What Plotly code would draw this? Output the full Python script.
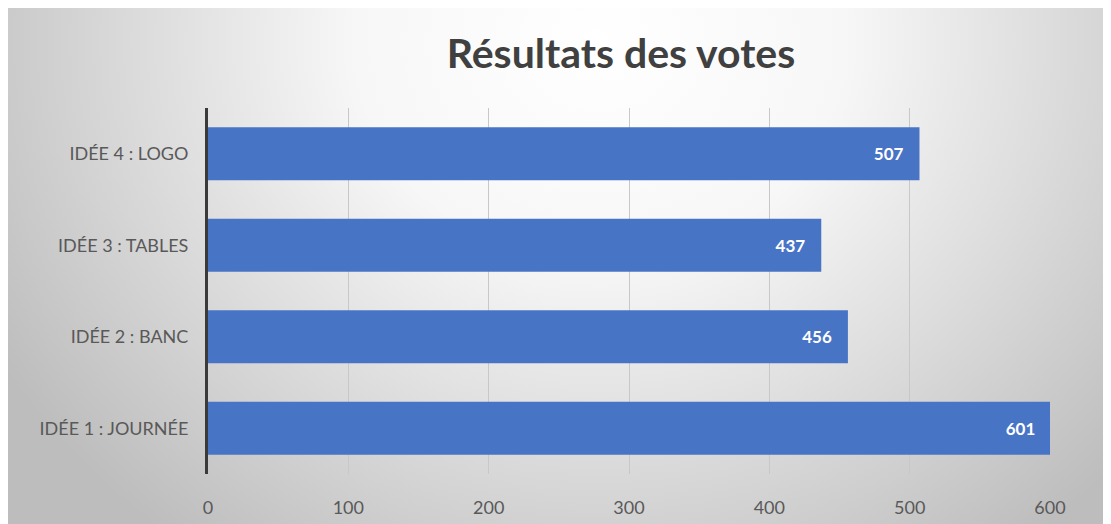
import base64
import plotly.graph_objects as go

categories = ["IDÉE 1 : JOURNÉE", "IDÉE 2 : BANC", "IDÉE 3 : TABLES", "IDÉE 4 : LOGO"]
votes = [601, 456, 437, 507]
x_ticks = [0, 100, 200, 300, 400, 500, 600]
title_text = "Résultats des votes"

W, H = 1111, 524
L, R, T, B = 200, 69, 100, 58
pw, ph = W - L - R, H - T - B

svg = (
    f'<svg xmlns="http://www.w3.org/2000/svg" width="{W}" height="{H}" viewBox="0 0 {W} {H}" preserveAspectRatio="none">'
    '<defs><radialGradient id="g" gradientUnits="userSpaceOnUse" cx="592" cy="32" r="700" '
    'gradientTransform="translate(592,32) scale(1,0.9) translate(-592,-32)">'
    '<stop offset="0" stop-color="#ffffff"/><stop offset="0.35" stop-color="#f7f7f7"/>'
    '<stop offset="1" stop-color="#bdbdbd"/></radialGradient></defs>'
    f'<rect width="{W}" height="{H}" fill="url(#g)"/></svg>'
)
src = "data:image/svg+xml;base64," + base64.b64encode(svg.encode()).decode()

font_family = "Lato, 'Open Sans', sans-serif"
pad = "\u00a0" * 3

fig = go.Figure(
    go.Bar(
        x=votes,
        y=categories,
        orientation="h",
        width=0.58,
        marker=dict(color="#4874c6", line=dict(width=0)),
        text=[f"<b>{v}</b>{pad}" for v in votes],
        textposition="inside",
        insidetextanchor="end",
        textangle=0,
        insidetextfont=dict(family=font_family, size=17, color="white"),
        cliponaxis=True,
        hoverinfo="x+y",
    )
)

fig.add_layout_image(
    dict(
        source=src, xref="paper", yref="paper",
        x=-L / pw, y=1 + T / ph,
        sizex=W / pw, sizey=H / ph,
        xanchor="left", yanchor="top", sizing="stretch", layer="below",
    )
)

fig.update_layout(
    width=W, height=H,
    margin=dict(l=L, r=R, t=T, b=B),
    paper_bgcolor="white",
    plot_bgcolor="rgba(0,0,0,0)",
    showlegend=False,
    uniformtext=dict(mode=False),
    title=dict(
        text=f"<b>{title_text}</b>", x=613 / W, xref="container", xanchor="center",
        y=1 - 46 / H, yref="container", yanchor="middle",
        font=dict(family=font_family, size=41, color="#404040"),
    ),
    font=dict(family=font_family, size=18, color="#595959"),
    xaxis=dict(
        range=[0, 600], tickvals=x_ticks, showgrid=True, gridcolor="#c8c8c8", gridwidth=1,
        zeroline=False, showline=False, ticks="outside", ticklen=17,
        tickcolor="rgba(0,0,0,0)", tickfont=dict(size=18, color="#595959"),
    ),
    yaxis=dict(
        showgrid=False, zeroline=False, showline=True, linecolor="#3a3a3a", linewidth=3,
        ticks="outside", ticklen=13, tickcolor="rgba(0,0,0,0)",
        tickfont=dict(size=18, color="#595959"),
    ),
)

fig.write_html("out.html")
